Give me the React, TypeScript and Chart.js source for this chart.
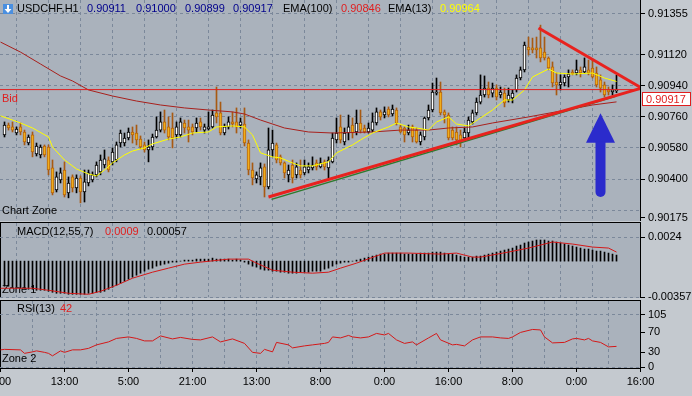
import React, { useEffect, useRef } from "react";
import { Chart, registerables } from "chart.js";

Chart.register(...registerables);

const W = 692;
const H = 396;
const FONT = "'Liberation Sans', Arial, sans-serif";
const PLOT_BG = "#AAB2BC";
const FRAME_BG = "#C4C9CF";
const GRID = "#7B889A";
const BULL_BODY = "#FFFFFF";
const BULL_EDGE = "#000000";
const BEAR_BODY = "#F0AE1C";
const BEAR_EDGE = "#B5640E";
const BEAR_WICK = "#A85A12";
const RED = "#E01E1E";
const EMA_SLOW_COLOR = "#A8201C";
const EMA_FAST_COLOR = "#FFFF00";
const ARROW_BLUE = "#2B2BCC";

// ---------------- DATA ----------------
const symbol = "USDCHF,H1";
const headerOHLC = ["0.90911", "0.91000", "0.90899", "0.90917"];
const ema100Label = "EMA(100)";
const ema100Last = "0.90846";
const ema13Label = "EMA(13)";
const ema13Last = "0.90964";
const macdLabel = "MACD(12,55,7)";
const macdMainLast = "0.0009";
const macdSignalLast = "0.00057";
const rsiLabel = "RSI(13)";
const rsiLast = "42";
const bidPrice = 0.90917;
const bidLabel = "0.90917";

const opens = [
  0.90655, 0.90712, 0.90701, 0.90666, 0.90701, 0.90672, 0.90608, 0.90655, 0.90545, 0.90539,
  0.90591, 0.90585, 0.90464, 0.90337, 0.90394, 0.90452, 0.9032, 0.90412, 0.90348, 0.90406,
  0.90325, 0.90377, 0.90394, 0.90424, 0.90441, 0.90481, 0.9051, 0.90499, 0.9051, 0.90608,
  0.90608, 0.90637, 0.90672, 0.90666, 0.90631, 0.90597, 0.90568, 0.90585, 0.90643, 0.90683,
  0.9073, 0.90701, 0.90695, 0.90655, 0.90655, 0.90724, 0.90701, 0.90701, 0.90695, 0.9073,
  0.90683, 0.90689, 0.90701, 0.90782, 0.90782, 0.90666, 0.90701, 0.9073, 0.9073, 0.90712,
  0.90718, 0.90608, 0.90452, 0.904, 0.90412, 0.9047, 0.90354, 0.90568, 0.90597, 0.90528,
  0.90493, 0.90424, 0.90481, 0.90424, 0.90452, 0.90435, 0.90452, 0.90464, 0.90493, 0.9047,
  0.90499, 0.90464, 0.90499, 0.90626, 0.90701, 0.90614, 0.90666, 0.90712, 0.90672, 0.90724,
  0.90695, 0.90672, 0.90683, 0.90724, 0.90788, 0.9077, 0.90805, 0.90776, 0.90799, 0.90701,
  0.90695, 0.90666, 0.90701, 0.90683, 0.90614, 0.90643, 0.90753, 0.90799, 0.90897, 0.90903,
  0.90788, 0.9077, 0.90683, 0.90672, 0.90655, 0.90637, 0.90666, 0.9073, 0.90782, 0.90845,
  0.90886, 0.90926, 0.90897, 0.90926, 0.90886, 0.90897, 0.90857, 0.90869, 0.90915, 0.90984,
  0.91031, 0.91163, 0.91158, 0.91158, 0.91158, 0.91134, 0.911, 0.91048, 0.90961, 0.90944,
  0.90955, 0.9099, 0.91019, 0.91013, 0.91031, 0.91019, 0.91031, 0.91042, 0.91013, 0.90973,
  0.90944, 0.90915, 0.90903, 0.90911,
];
const highs = [
  0.9073, 0.90724, 0.9073, 0.90701, 0.90724, 0.90683, 0.90655, 0.90672, 0.90608, 0.90597,
  0.90597, 0.90597, 0.9051, 0.90441, 0.90464, 0.90499, 0.90412, 0.90424, 0.90424, 0.90418,
  0.90452, 0.90452, 0.90441, 0.90499, 0.90539, 0.90568, 0.90528, 0.9058, 0.90614, 0.90683,
  0.90666, 0.90695, 0.90701, 0.90712, 0.90649, 0.90614, 0.90626, 0.9066, 0.90759, 0.90788,
  0.90799, 0.90759, 0.90782, 0.9073, 0.90753, 0.90741, 0.90741, 0.90718, 0.90753, 0.90753,
  0.90718, 0.90788, 0.90799, 0.90932, 0.90845, 0.90718, 0.90759, 0.90788, 0.90811, 0.90753,
  0.90811, 0.90626, 0.90493, 0.90441, 0.90493, 0.90487, 0.90695, 0.90683, 0.90608, 0.90539,
  0.90499, 0.90481, 0.9051, 0.90493, 0.9051, 0.9051, 0.90493, 0.90528, 0.9051, 0.90522,
  0.9051, 0.90528, 0.90666, 0.90753, 0.9077, 0.90695, 0.9077, 0.90753, 0.90799, 0.90799,
  0.90712, 0.90724, 0.90782, 0.90811, 0.90799, 0.90817, 0.90817, 0.90828, 0.90811, 0.90712,
  0.90701, 0.90712, 0.90712, 0.90695, 0.90672, 0.90759, 0.90828, 0.90955, 0.90984, 0.90961,
  0.90799, 0.90782, 0.90701, 0.90701, 0.90683, 0.90695, 0.90759, 0.90799, 0.90869, 0.91002,
  0.90996, 0.90961, 0.90955, 0.90944, 0.90932, 0.90926, 0.90926, 0.90915, 0.91002, 0.91048,
  0.91192, 0.91221, 0.91215, 0.91221, 0.9129, 0.91221, 0.91106, 0.91077, 0.91013, 0.91002,
  0.91002, 0.91031, 0.91031, 0.91088, 0.91048, 0.911, 0.91088, 0.91088, 0.91048, 0.91002,
  0.90961, 0.90932, 0.90944, 0.91,
];
const lows = [
  0.90643, 0.90683, 0.90672, 0.90655, 0.90655, 0.90597, 0.90597, 0.90528, 0.90533, 0.90522,
  0.90528, 0.90424, 0.90308, 0.90325, 0.90377, 0.90296, 0.90291, 0.90325, 0.9032, 0.90262,
  0.90267, 0.9036, 0.90383, 0.90412, 0.90424, 0.90464, 0.90441, 0.90481, 0.90499, 0.90585,
  0.90591, 0.90626, 0.90608, 0.90597, 0.90574, 0.90556, 0.90499, 0.90568, 0.90637, 0.90672,
  0.90666, 0.90626, 0.9058, 0.90637, 0.90643, 0.90666, 0.90614, 0.90655, 0.90672, 0.90683,
  0.90666, 0.90683, 0.90695, 0.90724, 0.90655, 0.90655, 0.90689, 0.90701, 0.90666, 0.90695,
  0.90591, 0.90424, 0.90366, 0.90377, 0.90366, 0.90296, 0.90343, 0.90528, 0.90493, 0.90481,
  0.90406, 0.90383, 0.90377, 0.90406, 0.90406, 0.90424, 0.90435, 0.90452, 0.90452, 0.90464,
  0.90452, 0.90406, 0.90493, 0.90608, 0.90608, 0.90597, 0.90626, 0.90637, 0.90655, 0.90666,
  0.90666, 0.90666, 0.90672, 0.90712, 0.90741, 0.90753, 0.90759, 0.90765, 0.90712, 0.90666,
  0.90614, 0.90655, 0.90614, 0.90608, 0.90597, 0.90626, 0.90741, 0.90788, 0.90886, 0.9077,
  0.90724, 0.90626, 0.90626, 0.90597, 0.90585, 0.90626, 0.90626, 0.90718, 0.9077, 0.90834,
  0.90874, 0.90869, 0.90874, 0.90857, 0.90869, 0.90817, 0.90845, 0.9084, 0.90903, 0.90973,
  0.91019, 0.91117, 0.91129, 0.911, 0.91077, 0.91088, 0.91031, 0.90932, 0.90886, 0.90915,
  0.90938, 0.90932, 0.91002, 0.91002, 0.9099, 0.91013, 0.91002, 0.90984, 0.90932, 0.90903,
  0.90874, 0.90886, 0.90886, 0.90899,
];
const closes = [
  0.90712, 0.90695, 0.90683, 0.90689, 0.90672, 0.90614, 0.90643, 0.90556, 0.90591, 0.90585,
  0.90539, 0.90452, 0.9032, 0.90412, 0.90435, 0.90308, 0.90377, 0.90348, 0.90406, 0.90325,
  0.90383, 0.90435, 0.90424, 0.90481, 0.9051, 0.90516, 0.90452, 0.90556, 0.90597, 0.90666,
  0.90637, 0.90672, 0.90655, 0.90626, 0.90585, 0.90568, 0.90585, 0.90643, 0.90683, 0.9073,
  0.90683, 0.90643, 0.90637, 0.90701, 0.9073, 0.90695, 0.90683, 0.90672, 0.90724, 0.90701,
  0.90701, 0.90701, 0.9077, 0.90759, 0.90666, 0.90701, 0.9073, 0.90718, 0.90701, 0.9073,
  0.90608, 0.90452, 0.90406, 0.90424, 0.90464, 0.90354, 0.90568, 0.90608, 0.9051, 0.90493,
  0.90435, 0.90452, 0.90406, 0.9047, 0.90424, 0.9047, 0.9047, 0.90481, 0.9047, 0.90493,
  0.9047, 0.9051, 0.90637, 0.90666, 0.90626, 0.90666, 0.90701, 0.90666, 0.90724, 0.90683,
  0.90672, 0.90695, 0.9073, 0.90788, 0.90759, 0.90788, 0.9077, 0.90805, 0.90724, 0.90672,
  0.90655, 0.90683, 0.90643, 0.90614, 0.90655, 0.90753, 0.90799, 0.90903, 0.90903, 0.90782,
  0.9077, 0.90637, 0.90637, 0.90626, 0.90608, 0.90672, 0.90741, 0.90782, 0.90845, 0.90886,
  0.90926, 0.90886, 0.90926, 0.90874, 0.90903, 0.9084, 0.90886, 0.90897, 0.90984, 0.91031,
  0.91175, 0.91146, 0.91146, 0.91146, 0.911, 0.911, 0.91042, 0.90955, 0.90944, 0.90961,
  0.9099, 0.91007, 0.91007, 0.91031, 0.91013, 0.91048, 0.91013, 0.9099, 0.90944, 0.90926,
  0.90886, 0.90903, 0.90915, 0.90917,
];
const barNumbers = opens.map((_, i) => i + 1);

const ema100Bars = [0, 5, 10, 15, 18, 22, 28, 34, 40, 46, 52, 58, 61, 65, 71, 77, 83, 93, 100, 107, 112, 118, 123, 132, 140, 148, 154];
const ema100Values = [
  0.91192, 0.91134, 0.91065, 0.90996, 0.90967, 0.90915, 0.9088, 0.90851, 0.90828, 0.90811,
  0.90799, 0.90788, 0.90776, 0.90741, 0.90695, 0.90672, 0.90666, 0.90672, 0.90683, 0.90683,
  0.90695, 0.90701, 0.90724, 0.90759, 0.90793, 0.90828, 0.90846,
];

const ema13Bars = [0, 3, 5, 8, 12, 13, 16, 19, 22, 24, 26, 28, 31, 33, 36, 38, 42, 45, 48, 52, 54, 58, 61, 63, 65, 68, 70, 73, 75, 78, 82, 84, 88, 90, 93, 97, 99, 102, 104, 107, 109, 112, 114, 117, 120, 123, 126, 128, 131, 133, 137, 139, 143, 148, 151, 154];
const ema13Values = [
  0.90765, 0.90741, 0.90724, 0.90695, 0.90643, 0.90585, 0.9051, 0.90458, 0.90429, 0.90418,
  0.90452, 0.90493, 0.90539, 0.90562, 0.9058, 0.90603, 0.90631, 0.90643, 0.90666, 0.90672,
  0.90701, 0.90707, 0.90701, 0.90655, 0.90551, 0.90528, 0.90522, 0.90493, 0.90476, 0.90476,
  0.90499, 0.90551, 0.90597, 0.90626, 0.90666, 0.90701, 0.90724, 0.90701, 0.90695, 0.90683,
  0.9073, 0.90759, 0.90718, 0.90707, 0.90753, 0.90799, 0.90857, 0.90857, 0.90915, 0.9099,
  0.91036, 0.91013, 0.91007, 0.91013, 0.90984, 0.90964,
];

// trend lines (bar, price)
const lowerTrendBars = [67, 160.25];
const lowerTrendPrices = [0.90296, 0.90926];
const upperTrendBars = [134.5, 160.25];
const upperTrendPrices = [0.91273, 0.90926];
const greenTrendBars = [67.75, 154];
const greenTrendPrices = [0.90282, 0.9088];

// arrow annotation (bar, prices)
const arrowBar = 150;
const arrowTipPrice = 0.9078;
const arrowNeckPrice = 0.9061;
const arrowTailPrice = 0.90296;

const macdHist = [
  -0.0025, -0.0025, -0.0026, -0.0026, -0.0027, -0.0027, -0.0028, -0.0028, -0.0029, -0.0029,
  -0.0029, -0.003, -0.0031, -0.0032, -0.0032, -0.0032, -0.0033, -0.0033, -0.0033, -0.0033,
  -0.0033, -0.0032, -0.0032, -0.0031, -0.0031, -0.003, -0.0028, -0.0026, -0.0024, -0.0022,
  -0.002, -0.0018, -0.0016, -0.0014, -0.0012, -0.001, -0.0008, -0.0007, -0.0005, -0.0004,
  -0.0003, -0.0002, -0.0001, -0.0001, 0.0, 0.0001, 0.0001, 0.0001, 0.0002, 0.0002,
  0.0002, 0.0002, 0.0003, 0.0002, 0.0002, 0.0002, 0.0002, 0.0001, 0.0002, 0.0001,
  -0.0001, -0.0003, -0.0005, -0.0006, -0.0008, -0.0009, -0.0009, -0.001, -0.001, -0.0011,
  -0.0011, -0.0012, -0.0012, -0.0012, -0.0011, -0.0011, -0.0011, -0.001, -0.001, -0.001,
  -0.0008, -0.0007, -0.0005, -0.0003, -0.0002, -0.0001, -0.0001, 0.0, 0.0001, 0.0002,
  0.0003, 0.0004, 0.0005, 0.0006, 0.0007, 0.0007, 0.0008, 0.0008, 0.0008, 0.0008,
  0.0007, 0.0007, 0.0007, 0.0007, 0.0008, 0.0008, 0.0008, 0.0009, 0.0009, 0.0009,
  0.0008, 0.0007, 0.0007, 0.0006, 0.0005, 0.0004, 0.0004, 0.0004, 0.0005, 0.0005,
  0.0006, 0.0007, 0.0008, 0.0009, 0.001, 0.0011, 0.0012, 0.0013, 0.0015, 0.0016,
  0.0018, 0.0019, 0.002, 0.0021, 0.0021, 0.0021, 0.002, 0.002, 0.0019, 0.0018,
  0.0017, 0.0016, 0.0015, 0.0014, 0.0013, 0.0012, 0.0012, 0.0011, 0.001, 0.001,
  0.0009, 0.0008, 0.0007, 0.0006,
];
const signalBars = [0, 8, 12, 17, 22, 25, 29, 33, 38, 42, 46, 50, 57, 62, 64, 68, 73, 78, 82, 85, 89, 96, 102, 110, 114, 118, 120, 127, 132, 138, 143, 148, 152, 154];
const signalValues = [
  -0.0027, -0.0027, -0.0029, -0.0032, -0.0033, -0.003, -0.0024, -0.0017, -0.0011, -0.0007,
  -0.0003, -0.0001, 0.0002, 0.0002, -0.0002, -0.0009, -0.0011, -0.0012, -0.0011, -0.0007,
  -0.0002, 0.0008, 0.0008, 0.0007, 0.0008, 0.0004, 0.0004, 0.0009, 0.0013, 0.0019,
  0.0017, 0.0014, 0.0013, 0.0009,
];

const rsiBars = [0, 1, 5, 6, 8, 9, 11, 12, 13, 15, 16, 18, 20, 22, 24, 27, 29, 32, 34, 36, 38, 40, 43, 45, 48, 50, 53, 55, 58, 61, 63, 65, 66, 68, 69, 72, 73, 76, 78, 81, 82, 83, 85, 87, 88, 90, 92, 94, 96, 97, 99, 101, 103, 104, 107, 109, 110, 113, 114, 116, 118, 120, 123, 125, 127, 128, 130, 133, 135, 136, 138, 141, 143, 144, 146, 147, 148, 150, 152, 154];
const rsiValues = [
  35, 36, 35, 28, 31, 33, 30, 28, 23, 33, 30, 35, 35, 38, 45, 51, 58, 61, 58, 53,
  53, 63, 57, 60, 56, 55, 61, 51, 57, 48, 30, 28, 36, 31, 50, 45, 39, 43, 45, 48,
  50, 61, 59, 64, 61, 59, 61, 68, 65, 68, 55, 48, 51, 45, 59, 68, 55, 45, 46, 43,
  55, 61, 61, 59, 58, 61, 70, 76, 75, 61, 49, 50, 57, 58, 55, 58, 53, 50, 41, 42,
];

// axes
const gridBars = [0, 8, 16, 24, 32, 40, 48, 56, 64, 72, 80, 88, 96, 104, 112, 120, 128, 136, 144, 152, 160];
const labelBars = [0, 16, 32, 48, 64, 80, 96, 112, 128, 144, 160];
const xTickLabels = ["0:00", "13:00", "5:00", "21:00", "13:00", "8:00", "0:00", "16:00", "8:00", "0:00", "16:00"];

const priceTickValues = [0.91355, 0.9112, 0.9094, 0.9076, 0.9058, 0.904, 0.90215, 0.90175];
const priceTickLabels = ["0.91355", "0.91120", "0.90940", "0.90760", "0.90580", "0.90400", "", "0.90175"];
const priceGridOn = [true, true, true, true, true, true, true, false];

const macdTickValues = [0.0024, -0.00357];
const macdTickLabels = ["0.0024", "-0.00357"];
const macdGridOn = [true, true];

const rsiTickValues = [105, 70, 30, 0];
const rsiTickLabels = ["105", "70", "30", "0"];
const rsiGridOn = [true, false, false, true];

// ---------------- helpers ----------------
const X_MIN = -0.125;
const X_MAX = 160.125;
const TRANSPARENT = "rgba(0,0,0,0)";

const pts = (xs: number[], ys: number[]) => xs.map((x, i) => ({ x, y: ys[i] }));
const isBull = (i: number) => closes[i] >= opens[i];

function xScale(showLabels: boolean) {
  return {
    type: "linear",
    min: X_MIN,
    max: X_MAX,
    offset: false,
    bounds: "data",
    afterBuildTicks: (s: any) => {
      s.ticks = gridBars.map((v) => ({ value: v }));
    },
    afterFit: (s: any) => {
      s.height = showLabels ? 28 : 0;
      s.paddingLeft = 0;
      s.paddingRight = 0;
    },
    grid: {
      display: true,
      drawOnChartArea: true,
      drawTicks: showLabels,
      tickLength: 4,
      lineWidth: 1,
      tickBorderDash: [],
      color: (c: any) =>
        c.tick && (c.tick.value === 0 || c.tick.value === 160) ? TRANSPARENT : GRID,
      tickColor: (c: any) =>
        c.tick && labelBars.includes(c.tick.value) ? "#000000" : TRANSPARENT,
    },
    border: { display: false, dash: [3, 3] },
    ticks: {
      display: showLabels,
      autoSkip: false,
      maxRotation: 0,
      minRotation: 0,
      padding: 3,
      color: "#000000",
      font: { family: FONT, size: 11 },
      callback: (v: any) => {
        const i = labelBars.indexOf(v);
        return i >= 0 ? xTickLabels[i] : "";
      },
    },
  };
}

function yScale(min: number, max: number, values: number[], labels: string[], gridOn: boolean[]) {
  return {
    type: "linear",
    position: "right",
    min,
    max,
    bounds: "data",
    afterBuildTicks: (s: any) => {
      s.ticks = values.map((v) => ({ value: v }));
    },
    afterFit: (s: any) => {
      s.width = 51;
      s.paddingTop = 0;
      s.paddingBottom = 0;
    },
    grid: {
      drawTicks: true,
      tickLength: 4,
      lineWidth: 1,
      tickBorderDash: [],
      color: (c: any) => (gridOn[c.index] ? GRID : TRANSPARENT),
      tickColor: (c: any) => (labels[c.index] ? "#000000" : TRANSPARENT),
    },
    border: { display: false, dash: [3, 3] },
    ticks: {
      autoSkip: false,
      padding: 3,
      color: "#000000",
      font: { family: FONT, size: 11 },
      callback: (_v: any, i: number) => labels[i],
    },
  };
}

function baseOptions(padding: any, scales: any) {
  return {
    responsive: false,
    maintainAspectRatio: false,
    animation: false,
    devicePixelRatio: 1,
    events: [],
    layout: { padding },
    plugins: {
      legend: { display: false },
      tooltip: { enabled: false },
      title: { display: false },
    },
    scales,
  };
}

function label(ctx: CanvasRenderingContext2D, s: string, x: number, y: number, color: string) {
  ctx.save();
  ctx.font = `11px ${FONT}`;
  ctx.textAlign = "left";
  ctx.textBaseline = "middle";
  ctx.fillStyle = color;
  ctx.fillText(s, x, y);
  ctx.restore();
}

function hLine(ctx: CanvasRenderingContext2D, x1: number, x2: number, y: number) {
  ctx.beginPath();
  ctx.moveTo(x1, y);
  ctx.lineTo(x2, y);
  ctx.stroke();
}
function vLine(ctx: CanvasRenderingContext2D, x: number, y1: number, y2: number) {
  ctx.beginPath();
  ctx.moveTo(x, y1);
  ctx.lineTo(x, y2);
  ctx.stroke();
}

// ---------------- main price chart ----------------
const mainDecor = {
  id: "mainDecor",
  beforeDraw(chart: any) {
    const ctx = chart.ctx as CanvasRenderingContext2D;
    ctx.save();
    ctx.fillStyle = FRAME_BG;
    ctx.fillRect(0, 0, W, H);
    ctx.fillStyle = PLOT_BG;
    ctx.fillRect(0, 0, 641, 221);
    ctx.fillRect(0, 223, 641, 75);
    ctx.fillRect(0, 301, 641, 68);
    ctx.restore();
  },
  beforeDatasetsDraw(chart: any) {
    const ctx = chart.ctx as CanvasRenderingContext2D;
    label(ctx, "Chart Zone", 2, 210.5, "#000000");
    label(ctx, "Bid", 2, 98.5, RED);
  },
  afterDatasetsDraw(chart: any) {
    const ctx = chart.ctx as CanvasRenderingContext2D;
    const xs = chart.scales.x;
    const ys = chart.scales.y;
    // arrow
    const ax = xs.getPixelForValue(arrowBar);
    const tipY = ys.getPixelForValue(arrowTipPrice);
    const neckY = ys.getPixelForValue(arrowNeckPrice);
    const tailY = ys.getPixelForValue(arrowTailPrice);
    ctx.save();
    ctx.fillStyle = ARROW_BLUE;
    ctx.beginPath();
    ctx.moveTo(ax, tipY);
    ctx.lineTo(ax + 14.5, neckY);
    ctx.lineTo(ax - 14.5, neckY);
    ctx.closePath();
    ctx.fill();
    ctx.beginPath();
    ctx.moveTo(ax - 5, neckY - 1);
    ctx.lineTo(ax + 5, neckY - 1);
    ctx.lineTo(ax + 5, tailY - 5);
    ctx.arc(ax, tailY - 5, 5, 0, Math.PI);
    ctx.closePath();
    ctx.fill();
    ctx.restore();

    // header
    ctx.save();
    ctx.fillStyle = "#4A8FE0";
    ctx.fillRect(3, 4, 10, 10);
    ctx.fillStyle = "#FFFFFF";
    ctx.fillRect(7, 5, 2, 5);
    ctx.beginPath();
    ctx.moveTo(4.5, 9);
    ctx.lineTo(11.5, 9);
    ctx.lineTo(8, 13);
    ctx.closePath();
    ctx.fill();
    ctx.restore();
    const hy = 8.5;
    label(ctx, symbol, 17, hy, "#000000");
    const ohlcX = [87, 136, 185, 233];
    headerOHLC.forEach((s, i) => label(ctx, s, ohlcX[i], hy, "#00008C"));
    label(ctx, ema100Label, 283, hy, "#000000");
    label(ctx, ema100Last, 341, hy, RED);
    label(ctx, ema13Label, 388, hy, "#000000");
    label(ctx, ema13Last, 440, hy, EMA_FAST_COLOR);
  },
  afterDraw(chart: any) {
    const ctx = chart.ctx as CanvasRenderingContext2D;
    const ys = chart.scales.y;
    ctx.save();
    ctx.strokeStyle = "#000000";
    ctx.lineWidth = 1;
    // axis lines and panel frames
    vLine(ctx, 640.5, 0, 221);
    hLine(ctx, 0, 641, 222.5);
    vLine(ctx, 0.5, 222, 298);
    vLine(ctx, 640.5, 222, 298);
    hLine(ctx, 0, 641, 300.5);
    vLine(ctx, 0.5, 300, 369);
    vLine(ctx, 640.5, 300, 369);
    hLine(ctx, 0, 641, 368.5);
    // current price box
    const by = Math.round(ys.getPixelForValue(bidPrice)) + 9;
    ctx.fillStyle = "#FFFFFF";
    ctx.fillRect(643, by - 6, 47, 13);
    ctx.strokeStyle = RED;
    ctx.strokeRect(642.5, by - 6.5, 48, 13);
    ctx.restore();
    label(ctx, bidLabel, 646, by + 0.5, RED);
  },
};

function mainConfig(): any {
  return {
    type: "bar",
    data: {
      datasets: [
        {
          type: "bar",
          data: barNumbers.map((b, i) => ({ x: b, y: [lows[i], highs[i]] })),
          backgroundColor: (c: any) => (isBull(c.dataIndex) ? "#000000" : BEAR_WICK),
          borderWidth: 0,
          barThickness: 1,
          grouped: false,
          order: 10,
        },
        {
          type: "bar",
          data: barNumbers.map((b, i) => ({ x: b, y: [opens[i], closes[i]] })),
          backgroundColor: (c: any) => (isBull(c.dataIndex) ? BULL_BODY : BEAR_BODY),
          borderColor: (c: any) => (isBull(c.dataIndex) ? BULL_EDGE : BEAR_EDGE),
          borderWidth: 1,
          borderSkipped: false,
          barThickness: 3,
          minBarLength: 1,
          grouped: false,
          order: 9,
        },
        {
          type: "line",
          data: pts(ema100Bars, ema100Values),
          borderColor: EMA_SLOW_COLOR,
          borderWidth: 1,
          pointRadius: 0,
          tension: 0,
          order: 8,
        },
        {
          type: "line",
          data: pts(ema13Bars, ema13Values),
          borderColor: EMA_FAST_COLOR,
          borderWidth: 1,
          pointRadius: 0,
          tension: 0,
          order: 7,
        },
        {
          type: "line",
          data: [
            { x: X_MIN, y: bidPrice },
            { x: X_MAX, y: bidPrice },
          ],
          borderColor: RED,
          borderWidth: 1,
          pointRadius: 0,
          order: 6,
        },
        {
          type: "line",
          data: pts(greenTrendBars, greenTrendPrices),
          borderColor: "#2E7A2E",
          borderWidth: 1.5,
          pointRadius: 0,
          order: 5,
        },
        {
          type: "line",
          data: pts(lowerTrendBars, lowerTrendPrices),
          borderColor: "#E8221E",
          borderWidth: 3,
          pointRadius: 0,
          order: 4,
        },
        {
          type: "line",
          data: pts(upperTrendBars, upperTrendPrices),
          borderColor: "#E8221E",
          borderWidth: 3,
          pointRadius: 0,
          order: 4,
        },
      ],
    },
    options: baseOptions(
      { top: 0, left: 0, right: 0, bottom: 176 },
      {
        x: xScale(false),
        y: yScale(0.901629, 0.914352, priceTickValues, priceTickLabels, priceGridOn),
      }
    ),
    plugins: [mainDecor],
  };
}

// ---------------- MACD ----------------
const macdDecor = {
  id: "macdDecor",
  beforeDatasetsDraw(chart: any) {
    label(chart.ctx, "Zone 1", 2, 289.5, "#000000");
  },
  afterDatasetsDraw(chart: any) {
    const ctx = chart.ctx;
    label(ctx, macdLabel, 17, 231.5, "#000000");
    label(ctx, macdMainLast, 105, 231.5, RED);
    label(ctx, macdSignalLast, 147, 231.5, "#000000");
  },
};

function macdConfig(): any {
  return {
    type: "bar",
    data: {
      datasets: [
        {
          type: "bar",
          data: barNumbers.map((b, i) => ({ x: b, y: macdHist[i] })),
          backgroundColor: "#000000",
          borderWidth: 0,
          barThickness: 1,
          grouped: false,
          order: 2,
        },
        {
          type: "line",
          data: pts(signalBars, signalValues),
          borderColor: "#D41818",
          borderWidth: 1,
          pointRadius: 0,
          tension: 0,
          order: 1,
        },
      ],
    },
    options: baseOptions(
      { top: 223, left: 0, right: 0, bottom: 99 },
      {
        x: xScale(false),
        y: yScale(-0.00357, 0.003793, macdTickValues, macdTickLabels, macdGridOn),
      }
    ),
    plugins: [macdDecor],
  };
}

// ---------------- RSI ----------------
const rsiDecor = {
  id: "rsiDecor",
  beforeDatasetsDraw(chart: any) {
    label(chart.ctx, "Zone 2", 2, 358.5, "#000000");
  },
  afterDatasetsDraw(chart: any) {
    const ctx = chart.ctx;
    label(ctx, rsiLabel, 17, 309, "#000000");
    label(ctx, rsiLast, 60, 309, RED);
  },
};

function rsiConfig(): any {
  return {
    type: "line",
    data: {
      datasets: [
        {
          data: pts(rsiBars, rsiValues),
          borderColor: "#D41818",
          borderWidth: 1,
          pointRadius: 0,
          tension: 0,
        },
      ],
    },
    options: baseOptions(
      { top: 301, left: 0, right: 0, bottom: 0 },
      {
        x: xScale(true),
        y: yScale(-1.4, 133.1, rsiTickValues, rsiTickLabels, rsiGridOn),
      }
    ),
    plugins: [rsiDecor],
  };
}

export default function App() {
  const mainRef = useRef<HTMLCanvasElement>(null);
  const macdRef = useRef<HTMLCanvasElement>(null);
  const rsiRef = useRef<HTMLCanvasElement>(null);

  useEffect(() => {
    Chart.defaults.font.family = FONT;
    Chart.defaults.font.size = 11;
    const charts = [
      new Chart(mainRef.current as HTMLCanvasElement, mainConfig()),
      new Chart(macdRef.current as HTMLCanvasElement, macdConfig()),
      new Chart(rsiRef.current as HTMLCanvasElement, rsiConfig()),
    ];
    return () => charts.forEach((c) => c.destroy());
  }, []);

  const cs: React.CSSProperties = {
    position: "absolute",
    left: 0,
    top: 0,
    width: W,
    height: H,
    display: "block",
  };
  return (
    <div style={{ position: "absolute", left: 0, top: 0, width: W, height: H, overflow: "hidden" }}>
      <canvas ref={mainRef} width={W} height={H} style={cs} />
      <canvas ref={macdRef} width={W} height={H} style={cs} />
      <canvas ref={rsiRef} width={W} height={H} style={cs} />
    </div>
  );
}
